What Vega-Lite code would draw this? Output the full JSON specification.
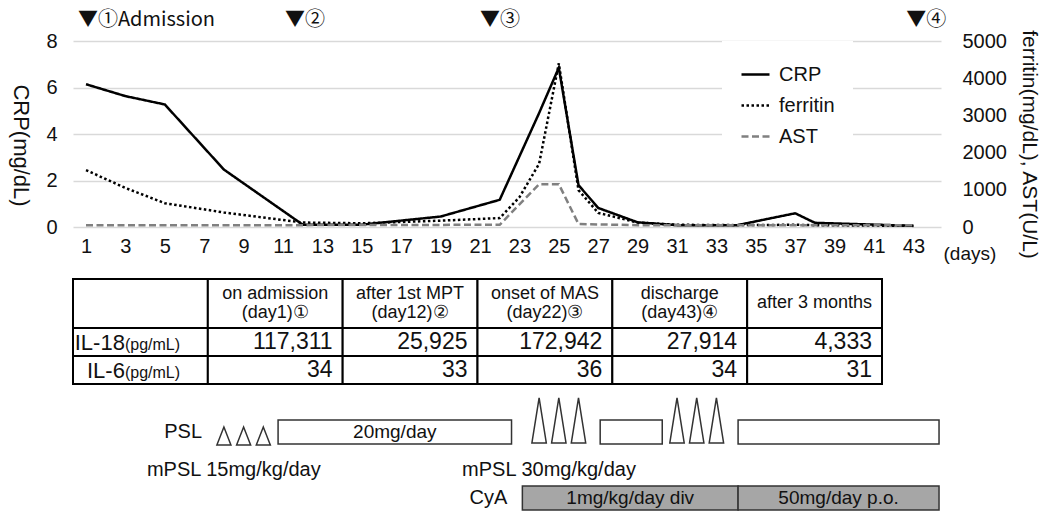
{
  "$schema": "https://vega.github.io/schema/vega-lite/v6.json",
  "background": "white",
  "padding": {"left": 9, "top": 10, "right": 8, "bottom": 0},
  "config": {
    "font": "Liberation Sans",
    "view": {"stroke": null},
    "axis": {"labelFont": "Liberation Sans", "titleFont": "Liberation Sans", "labelColor": "#111", "titleColor": "#111", "titleFontWeight": "normal"},
    "text": {"font": "Liberation Sans", "color": "#111"},
    "legend": {"labelFont": "Liberation Sans", "labelColor": "#111"}
  },
  "spacing": 0,
  "bounds": "flush",
  "vconcat": [
    {
      "width": 868,
      "height": 186,
      "data": {"values": [
        {"day": 1, "series": "CRP", "value": 6.14},
        {"day": 3, "series": "CRP", "value": 5.63},
        {"day": 5, "series": "CRP", "value": 5.27},
        {"day": 8, "series": "CRP", "value": 2.47},
        {"day": 12, "series": "CRP", "value": 0.1},
        {"day": 15, "series": "CRP", "value": 0.1},
        {"day": 19, "series": "CRP", "value": 0.45},
        {"day": 22, "series": "CRP", "value": 1.17},
        {"day": 24, "series": "CRP", "value": 4.9},
        {"day": 25, "series": "CRP", "value": 6.85},
        {"day": 26, "series": "CRP", "value": 1.8},
        {"day": 27, "series": "CRP", "value": 0.82},
        {"day": 29, "series": "CRP", "value": 0.2},
        {"day": 31, "series": "CRP", "value": 0.08},
        {"day": 34, "series": "CRP", "value": 0.07},
        {"day": 37, "series": "CRP", "value": 0.59},
        {"day": 38, "series": "CRP", "value": 0.18},
        {"day": 43, "series": "CRP", "value": 0.05},
        {"day": 1, "series": "ferritin", "value": 1530},
        {"day": 3, "series": "ferritin", "value": 1050},
        {"day": 5, "series": "ferritin", "value": 640},
        {"day": 8, "series": "ferritin", "value": 390},
        {"day": 12, "series": "ferritin", "value": 120},
        {"day": 15, "series": "ferritin", "value": 100},
        {"day": 19, "series": "ferritin", "value": 170},
        {"day": 22, "series": "ferritin", "value": 240},
        {"day": 23, "series": "ferritin", "value": 800},
        {"day": 24, "series": "ferritin", "value": 1700},
        {"day": 25, "series": "ferritin", "value": 4400},
        {"day": 26, "series": "ferritin", "value": 990},
        {"day": 27, "series": "ferritin", "value": 380},
        {"day": 29, "series": "ferritin", "value": 120},
        {"day": 31, "series": "ferritin", "value": 60},
        {"day": 34, "series": "ferritin", "value": 50},
        {"day": 37, "series": "ferritin", "value": 60},
        {"day": 38, "series": "ferritin", "value": 50},
        {"day": 43, "series": "ferritin", "value": 30},
        {"day": 1, "series": "AST", "value": 50},
        {"day": 12, "series": "AST", "value": 50},
        {"day": 22, "series": "AST", "value": 60},
        {"day": 24, "series": "AST", "value": 1150},
        {"day": 25, "series": "AST", "value": 1150},
        {"day": 26, "series": "AST", "value": 80},
        {"day": 29, "series": "AST", "value": 50},
        {"day": 43, "series": "AST", "value": 50}
      ]},
      "layer": [
        {
          "layer": [
            {
              "transform": [{"filter": "datum.series === 'CRP'"}],
              "mark": {"type": "line", "strokeWidth": 2.5},
              "encoding": {
                "x": {"field": "day", "type": "quantitative",
                  "scale": {"domain": [0.34, 44.4], "nice": false, "zero": false},
                  "axis": {"values": [1,3,5,7,9,11,13,15,17,19,21,23,25,27,29,31,33,35,37,39,41,43], "grid": false, "domain": false, "ticks": false, "labelFontSize": 20, "labelPadding": 9, "labelFlush": false, "labelOverlap": false,
                    "title": "(days)", "titleFontSize": 19, "titleX": 870, "titleY": 26, "titleAlign": "left", "titleBaseline": "middle", "titleAnchor": "start"}},
                "y": {"field": "value", "type": "quantitative",
                  "scale": {"domain": [0, 8], "nice": false},
                  "axis": {"values": [0,2,4,6,8], "grid": true, "gridColor": "#d9d9d9", "gridWidth": 1.5, "domain": false, "ticks": false, "labelFontSize": 20, "labelPadding": 16,
                    "title": "CRP(mg/dL)", "titleFontSize": 22, "titleAngle": 90, "titleX": -53, "titleY": 104, "titleAlign": "center", "titleBaseline": "middle"}},
                "color": {"field": "series", "type": "nominal",
                  "scale": {"domain": ["CRP", "ferritin", "AST"], "range": ["#000000", "#000000", "#808080"]},
                  "legend": {"orient": "none", "legendX": 649, "legendY": 0, "title": null, "fillColor": "white", "padding": 18, "symbolType": "stroke", "symbolSize": 784, "symbolStrokeWidth": 2.5, "labelFontSize": 20, "labelOffset": 8, "rowPadding": 5}},
                "strokeDash": {"field": "series", "type": "nominal",
                  "scale": {"domain": ["CRP", "ferritin", "AST"], "range": [[1, 0], [2.5, 2.5], [7, 3.5]]},
                  "legend": {"orient": "none", "legendX": 649, "legendY": 0, "title": null, "fillColor": "white", "padding": 18, "symbolType": "stroke", "symbolSize": 784, "symbolStrokeWidth": 2.5, "labelFontSize": 20, "labelOffset": 8, "rowPadding": 5}}
              }
            },
            {
              "data": {"values": [
                {"day": 0.59, "label": "▼①Admission"},
                {"day": 11.1, "label": "▼②"},
                {"day": 21.0, "label": "▼③"},
                {"day": 42.64, "label": "▼④"}
              ]},
              "mark": {"type": "text", "align": "left", "baseline": "middle", "fontSize": 20, "font": "Noto Sans CJK JP"},
              "encoding": {
                "x": {"field": "day", "type": "quantitative"},
                "y": {"datum": 8.9, "type": "quantitative", "scale": {"domain": [0, 8], "nice": false}},
                "text": {"field": "label"}
              }
            }
          ]
        },
        {
          "transform": [{"filter": "datum.series !== 'CRP'"}],
          "mark": {"type": "line", "strokeWidth": 2.5},
          "encoding": {
            "x": {"field": "day", "type": "quantitative"},
            "y": {"field": "value", "type": "quantitative",
              "scale": {"domain": [0, 5000], "nice": false},
              "axis": {"orient": "right", "values": [0,1000,2000,3000,4000,5000], "format": "d", "grid": false, "domain": false, "ticks": false, "labelFontSize": 20, "labelPadding": 21,
                "title": "ferritin(mg/dL), AST(U/L)", "titleFontSize": 21, "titleAngle": 90, "titleX": 87, "titleY": 103, "titleAlign": "center", "titleBaseline": "middle"}},
            "color": {"field": "series", "type": "nominal"},
            "strokeDash": {"field": "series", "type": "nominal"}
          }
        }
      ],
      "resolve": {"scale": {"y": "independent"}}
    },
    {
      "width": 809,
      "height": 101,
      "data": {"values": [
        {"row": "head", "col": "item", "text": ""},
        {"row": "head", "col": "day1", "text": "on admission\n(day1)①"},
        {"row": "head", "col": "day12", "text": "after 1st MPT\n(day12)②"},
        {"row": "head", "col": "day22", "text": "onset of MAS\n(day22)③"},
        {"row": "head", "col": "day43", "text": "discharge\n(day43)④"},
        {"row": "head", "col": "3mo", "text": "after 3 months"}
      ]},
      "encoding": {
        "x": {"field": "col", "type": "nominal", "scale": {"domain": ["item", "day1", "day12", "day22", "day43", "3mo"], "paddingInner": 0, "paddingOuter": 0}, "axis": null},
        "y": {"field": "row", "type": "nominal", "scale": {"domain": ["head"], "paddingInner": 0, "paddingOuter": 0.5306, "align": 1}, "axis": null}
      },
      "layer": [
        {"mark": {"type": "rect", "fill": "white", "stroke": "#000", "strokeWidth": 2}},
        {
          "transform": [{"filter": "indexof(datum.text, '\\n') >= 0"}],
          "mark": {"type": "text", "fontSize": 18, "lineBreak": "\n", "lineHeight": 19, "baseline": "middle", "dy": -9.5},
          "encoding": {"text": {"field": "text"}}
        },
        {
          "transform": [{"filter": "indexof(datum.text, '\\n') < 0"}],
          "mark": {"type": "text", "fontSize": 18, "baseline": "middle"},
          "encoding": {"text": {"field": "text"}}
        }
      ]
    },
    {
      "width": 809,
      "height": 56,
      "data": {"values": [
        {"row": "IL-18", "col": "item", "unit": "(pg/mL)"},
        {"row": "IL-18", "col": "day1", "value": 117311},
        {"row": "IL-18", "col": "day12", "value": 25925},
        {"row": "IL-18", "col": "day22", "value": 172942},
        {"row": "IL-18", "col": "day43", "value": 27914},
        {"row": "IL-18", "col": "3mo", "value": 4333},
        {"row": "IL-6", "col": "item", "unit": "(pg/mL)"},
        {"row": "IL-6", "col": "day1", "value": 34},
        {"row": "IL-6", "col": "day12", "value": 33},
        {"row": "IL-6", "col": "day22", "value": 36},
        {"row": "IL-6", "col": "day43", "value": 34},
        {"row": "IL-6", "col": "3mo", "value": 31}
      ]},
      "encoding": {
        "x": {"field": "col", "type": "nominal", "scale": {"domain": ["item", "day1", "day12", "day22", "day43", "3mo"], "paddingInner": 0, "paddingOuter": 0}, "axis": null},
        "y": {"field": "row", "type": "nominal", "scale": {"domain": ["IL-18", "IL-6"], "paddingInner": 0, "paddingOuter": 0}, "axis": null}
      },
      "layer": [
        {"mark": {"type": "rect", "fill": "white", "stroke": "#000", "strokeWidth": 2}},
        {
          "transform": [{"filter": "isValid(datum.value)"}],
          "mark": {"type": "text", "align": "right", "baseline": "middle", "fontSize": 23, "dx": -10},
          "encoding": {
            "x": {"field": "col", "type": "nominal", "bandPosition": 1},
            "text": {"field": "value", "type": "quantitative", "format": ","}
          }
        },
        {
          "transform": [{"filter": "datum.col === 'item'"}],
          "mark": {"type": "text", "align": "right", "baseline": "alphabetic", "fontSize": 22, "dy": 8},
          "encoding": {
            "x": {"field": "col", "type": "nominal", "bandPosition": 0.385},
            "text": {"field": "row"}
          }
        },
        {
          "transform": [{"filter": "datum.col === 'item'"}],
          "mark": {"type": "text", "align": "left", "baseline": "alphabetic", "fontSize": 16, "dy": 8},
          "encoding": {
            "x": {"field": "col", "type": "nominal", "bandPosition": 0.385},
            "text": {"field": "unit"}
          }
        }
      ]
    },
    {
      "width": 868,
      "height": 126,
      "layer": [
        {
          "data": {"values": [
            {"lane": "PSL", "start": 10.75, "end": 22.6, "label": "20mg/day"},
            {"lane": "PSL", "start": 27.1, "end": 30.25, "label": ""},
            {"lane": "PSL", "start": 34.1, "end": 44.3, "label": ""},
            {"lane": "CyA", "start": 23.15, "end": 34.1, "label": "1mg/kg/day div"},
            {"lane": "CyA", "start": 34.1, "end": 44.3, "label": "50mg/day p.o."}
          ]},
          "layer": [
            {
              "mark": {"type": "bar", "stroke": "#333", "strokeWidth": 1.5},
              "encoding": {
                "x": {"field": "start", "type": "quantitative", "scale": {"domain": [0.34, 44.4], "nice": false, "zero": false}, "axis": null},
                "x2": {"field": "end"},
                "y": {"field": "lane", "type": "nominal", "scale": {"domain": ["PSL", "mPSL", "CyA"], "paddingInner": 0.27, "paddingOuter": 0.544, "align": 1}, "axis": null},
                "fill": {"field": "lane", "type": "nominal", "scale": {"domain": ["PSL", "CyA"], "range": ["#ffffff", "#a6a6a6"]}, "legend": null}
              }
            },
            {
              "transform": [{"filter": "datum.label !== ''"}, {"fold": ["start", "end"], "as": ["edge", "pos"]}],
              "mark": {"type": "text", "fontSize": 19, "baseline": "middle"},
              "encoding": {
                "x": {"field": "pos", "type": "quantitative", "aggregate": "mean"},
                "y": {"field": "lane", "type": "nominal"},
                "text": {"field": "label", "type": "nominal"}
              }
            }
          ]
        },
        {
          "data": {"values": [
            {"lane": "PSL", "day": 8, "dose": 15},
            {"lane": "PSL", "day": 9, "dose": 15},
            {"lane": "PSL", "day": 10, "dose": 15},
            {"lane": "PSL", "day": 24, "dose": 30},
            {"lane": "PSL", "day": 25, "dose": 30},
            {"lane": "PSL", "day": 26, "dose": 30},
            {"lane": "PSL", "day": 31, "dose": 30},
            {"lane": "PSL", "day": 32, "dose": 30},
            {"lane": "PSL", "day": 33, "dose": 30}
          ]},
          "layer": [
            {
              "transform": [{"filter": "datum.dose === 15"}],
              "mark": {"type": "point", "shape": "M-0.78,1L0,-1L0.78,1Z", "size": 324, "filled": true, "fill": "white", "stroke": "#333", "strokeWidth": 1.5, "opacity": 1, "yOffset": 4},
              "encoding": {
                "x": {"field": "day", "type": "quantitative"},
                "y": {"field": "lane", "type": "nominal"}
              }
            },
            {
              "transform": [{"filter": "datum.dose === 30"}],
              "mark": {"type": "point", "shape": "M-0.32,1L0,-1L0.32,1Z", "size": 2025, "filled": true, "fill": "white", "stroke": "#333", "strokeWidth": 1.5, "opacity": 1, "yOffset": -11.5},
              "encoding": {
                "x": {"field": "day", "type": "quantitative"},
                "y": {"field": "lane", "type": "nominal"}
              }
            }
          ]
        },
        {
          "data": {"values": [
            {"lane": "PSL", "at": 7.65, "text": "PSL", "kind": "lane"},
            {"lane": "CyA", "at": 23.15, "text": "CyA", "kind": "lane"},
            {"lane": "mPSL", "at": 8, "text": "mPSL 15mg/kg/day", "kind": "dose"},
            {"lane": "mPSL", "at": 24, "text": "mPSL 30mg/kg/day", "kind": "dose"}
          ]},
          "layer": [
            {
              "transform": [{"filter": "datum.kind === 'lane'"}],
              "mark": {"type": "text", "align": "right", "baseline": "middle", "fontSize": 20, "dx": -15},
              "encoding": {
                "x": {"field": "at", "type": "quantitative"},
                "y": {"field": "lane", "type": "nominal"},
                "text": {"field": "text"}
              }
            },
            {
              "transform": [{"filter": "datum.kind === 'dose'"}],
              "mark": {"type": "text", "align": "left", "baseline": "middle", "fontSize": 20, "dx": -77, "dy": 5},
              "encoding": {
                "x": {"field": "at", "type": "quantitative"},
                "y": {"field": "lane", "type": "nominal"},
                "text": {"field": "text"}
              }
            }
          ]
        }
      ]
    }
  ]
}
